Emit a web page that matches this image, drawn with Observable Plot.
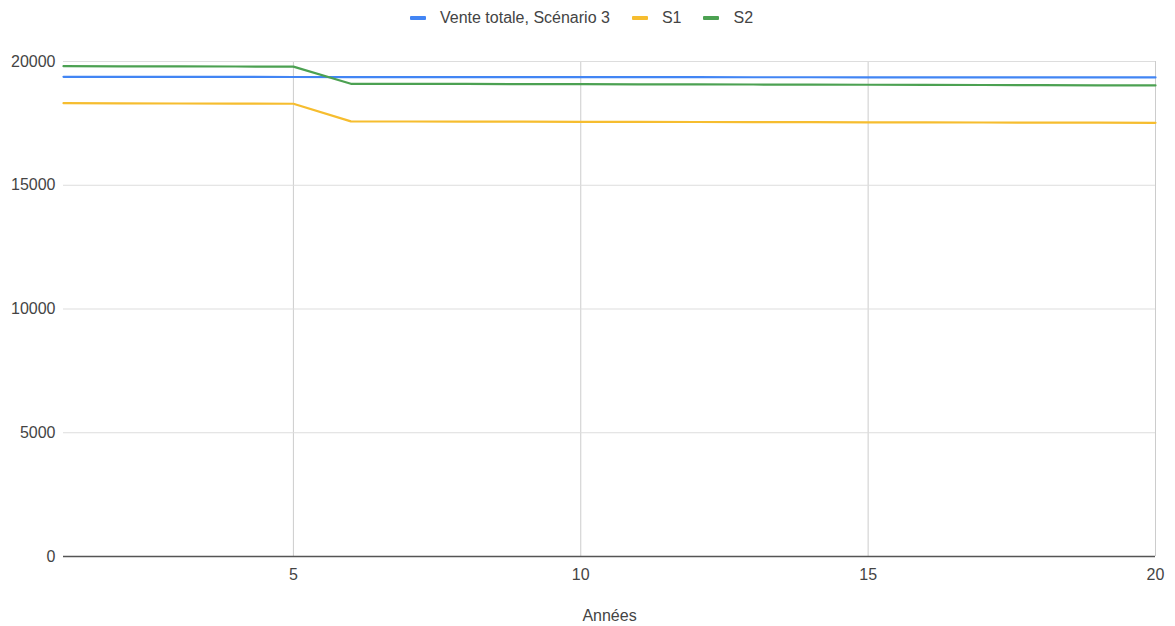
<!DOCTYPE html>
<html>
<head>
<meta charset="utf-8">
<script src="https://cdn.jsdelivr.net/npm/d3@7"></script>
<script src="https://cdn.jsdelivr.net/npm/@observablehq/plot@0.6"></script>
<style>
  body { margin: 0; background: #fff; font-family: "Liberation Sans", Arial, sans-serif; }
  #legend { height: 36px; display: flex; justify-content: center; align-items: center; gap: 22px; font-size: 16px; color: #444; padding-right: 12px; box-sizing: border-box; }
  .item { display: flex; align-items: center; gap: 14px; }
  .sw { width: 16px; height: 4px; border-radius: 1px; }
</style>
</head>
<body>
<div id="legend"></div>
<div id="chart"></div>
<script>
const years = [1,2,3,4,5,6,7,8,9,10,11,12,13,14,15,16,17,18,19,20];
const seriesNames = ["Vente totale, Scénario 3", "S1", "S2"];
const seriesColors = ["#4285F4", "#F6BD2F", "#4CA152"];
const venteS3 = [19380,19380,19378,19376,19374,19372,19370,19370,19368,19368,19366,19366,19364,19364,19362,19362,19360,19360,19358,19358];
const s1 = [18315,18310,18304,18298,18292,17580,17576,17572,17568,17564,17560,17556,17552,17548,17544,17540,17536,17532,17528,17524];
const s2 = [19810,19806,19802,19798,19794,19100,19096,19092,19088,19084,19078,19074,19070,19066,19060,19056,19050,19044,19038,19032];
const xTicks = [5,10,15,20];
const yTicks = [0,5000,10000,15000,20000];

const allSeries = [venteS3, s1, s2];
const data = [];
allSeries.forEach((vals, i) => vals.forEach((v, j) => data.push({year: years[j], value: v, series: seriesNames[i]})));

const legend = document.getElementById("legend");
seriesNames.forEach((n, i) => {
  const it = document.createElement("div");
  it.className = "item";
  it.innerHTML = `<span class="sw" style="background:${seriesColors[i]}"></span><span>${n}</span>`;
  legend.appendChild(it);
});

const chart = Plot.plot({
  width: 1175,
  height: 590,
  marginLeft: 63,
  marginRight: 20,
  marginTop: 25,
  marginBottom: 70,
  style: { fontFamily: "'Liberation Sans', Arial, sans-serif", fontSize: "16px", color: "#444", background: "#fff" },
  x: { domain: [1, 20], ticks: xTicks, label: null },
  y: { domain: [0, 20000], ticks: yTicks, label: null },
  color: { domain: seriesNames, range: seriesColors },
  marks: [
    Plot.gridX(xTicks, { stroke: "#ccc", strokeOpacity: 1, strokeWidth: 1 }),
    Plot.gridY(yTicks.slice(1), { stroke: "#ddd", strokeOpacity: 1, strokeWidth: 1 }),
    Plot.axisY({ ticks: yTicks, tickSize: 0, tickPadding: 8, tickFormat: d => String(d), label: null }),
    Plot.axisX({ ticks: xTicks, tickSize: 0, tickPadding: 12, tickFormat: d => String(d), label: null }),
    Plot.ruleY([0], { stroke: "#555", strokeWidth: 1.5 }),
    Plot.line(data, { x: "year", y: "value", z: "series", stroke: "series", strokeWidth: 2.2 }),
    Plot.text(["Années"], { frameAnchor: "bottom", dy: 64, fill: "#444", fontSize: 16 })
  ]
});
document.getElementById("chart").appendChild(chart);
</script>
</body>
</html>
